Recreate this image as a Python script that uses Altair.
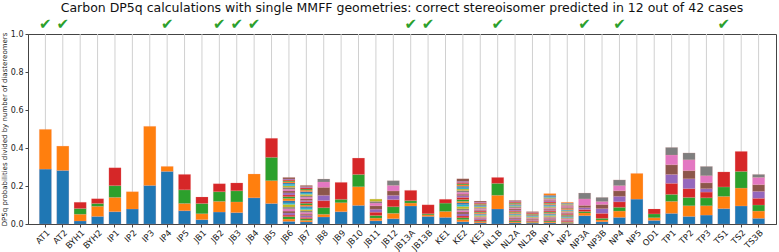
import altair as alt
import pandas as pd

# matplotlib "tab10" cycle used for successive diastereomers
TAB10 = ["#1f77b4", "#ff7f0e", "#2ca02c", "#d62728", "#9467bd",
         "#8c564b", "#e377c2", "#7f7f7f", "#bcbd22", "#17becf"]

# DP5q probability / number of diastereomers, one list per molecule (bottom -> top)
at1 = [0.289, 0.209]
at2 = [0.282, 0.128]
byh1 = [0.016, 0.035, 0.031, 0.032]
byh2 = [0.040, 0.053, 0.015, 0.025]
ip1 = [0.065, 0.075, 0.062, 0.094]
ip2 = [0.079, 0.091]
ip3 = [0.203, 0.311]
ip4 = [0.277, 0.026]
ip5 = [0.070, 0.038, 0.072, 0.081]
jb1 = [0.023, 0.031, 0.054, 0.034]
jb2 = [0.063, 0.056, 0.051, 0.042]
jb3 = [0.060, 0.056, 0.059, 0.041]
jb4 = [0.138, 0.125]
jb5 = [0.108, 0.120, 0.123, 0.100]
jb6 = [0.014, 0.012, 0.013, 0.008, 0.011, 0.010, 0.012, 0.009, 0.014, 0.008,
       0.011, 0.012, 0.010, 0.009, 0.011, 0.010, 0.009, 0.010, 0.008, 0.009,
       0.006, 0.006, 0.005, 0.005, 0.005, 0.008]
jb7 = [0.011, 0.008, 0.009, 0.007, 0.009, 0.008, 0.009, 0.008, 0.007, 0.009,
       0.008, 0.007, 0.009, 0.008, 0.007, 0.008, 0.009, 0.007, 0.008, 0.007,
       0.008, 0.007, 0.006, 0.007, 0.006, 0.006]
jb8 = [0.037, 0.014, 0.035, 0.037, 0.028, 0.042, 0.028, 0.016]
jb9 = [0.065, 0.047, 0.018, 0.089]
jb10 = [0.098, 0.098, 0.065, 0.086]
jb11 = [0.017, 0.014, 0.014, 0.017, 0.016, 0.018, 0.014, 0.009, 0.012]
jb12 = [0.028, 0.028, 0.035, 0.037, 0.023, 0.023, 0.029, 0.025]
jb13a = [0.095, 0.015, 0.013, 0.054]
jb13b = [0.040, 0.008, 0.006, 0.047]
ke1 = [0.035, 0.031, 0.044, 0.020]
ke2 = [0.012, 0.011, 0.010, 0.009, 0.011, 0.010, 0.008, 0.009, 0.012, 0.010,
       0.009, 0.008, 0.010, 0.011, 0.009, 0.008, 0.010, 0.009, 0.008, 0.007,
       0.008, 0.007, 0.006, 0.007, 0.006, 0.013]
ke3 = [0.006, 0.005, 0.004, 0.006, 0.005, 0.004, 0.005, 0.004, 0.006, 0.005,
       0.004, 0.005, 0.004, 0.005, 0.004, 0.004, 0.005, 0.004, 0.005, 0.004,
       0.005, 0.004, 0.004, 0.005, 0.004, 0.005]
nl1b = [0.079, 0.072, 0.063, 0.031]
nl2a = [0.006, 0.005, 0.006, 0.004, 0.005, 0.005, 0.004, 0.005, 0.006, 0.005,
        0.004, 0.005, 0.005, 0.004, 0.005, 0.006, 0.004, 0.005, 0.004, 0.005,
        0.005, 0.004, 0.005, 0.004, 0.004, 0.004]
nl2b = [0.005, 0.004, 0.004, 0.005, 0.004, 0.004, 0.004, 0.004, 0.004, 0.004,
        0.004, 0.004, 0.004, 0.004, 0.003, 0.004]
np1 = [0.006, 0.005, 0.005, 0.004, 0.005, 0.005, 0.004, 0.005, 0.006, 0.005,
       0.005, 0.004, 0.005, 0.005, 0.004, 0.005, 0.005, 0.004, 0.005, 0.005,
       0.005, 0.005, 0.004, 0.005, 0.005, 0.004, 0.005, 0.005, 0.004, 0.005,
       0.007, 0.009]
np2 = [0.004, 0.004, 0.003, 0.004, 0.004, 0.003, 0.004, 0.004, 0.003, 0.004,
       0.004, 0.003, 0.004, 0.004, 0.003, 0.004, 0.003, 0.004, 0.003, 0.004,
       0.003, 0.004, 0.003, 0.004, 0.003, 0.003, 0.004, 0.003, 0.004, 0.003,
       0.003, 0.004]
np3a = [0.044, 0.014, 0.008, 0.010, 0.010, 0.012, 0.034, 0.031]
np3b = [0.012, 0.009, 0.009, 0.026, 0.025, 0.022, 0.015, 0.022]
np4 = [0.035, 0.033, 0.020, 0.029, 0.029, 0.029, 0.027, 0.030]
np5 = [0.131, 0.135]
od1 = [0.019, 0.014, 0.020, 0.026]
tp1 = [0.056, 0.063, 0.037, 0.058, 0.047, 0.051, 0.051, 0.040]
tp2 = [0.040, 0.056, 0.044, 0.046, 0.052, 0.043, 0.057, 0.036]
tp3 = [0.047, 0.049, 0.042, 0.030, 0.018, 0.031, 0.037, 0.049]
ts1 = [0.081, 0.064, 0.050, 0.079]
ts2 = [0.095, 0.094, 0.088, 0.105]
ts3b = [0.030, 0.038, 0.032, 0.035, 0.037, 0.035, 0.038, 0.016]

BARS = [
    ("AT1", at1), ("AT2", at2), ("BYH1", byh1), ("BYH2", byh2),
    ("IP1", ip1), ("IP2", ip2), ("IP3", ip3), ("IP4", ip4), ("IP5", ip5),
    ("JB1", jb1), ("JB2", jb2), ("JB3", jb3), ("JB4", jb4), ("JB5", jb5),
    ("JB6", jb6), ("JB7", jb7), ("JB8", jb8), ("JB9", jb9), ("JB10", jb10),
    ("JB11", jb11), ("JB12", jb12), ("JB13A", jb13a), ("JB13B", jb13b),
    ("KE1", ke1), ("KE2", ke2), ("KE3", ke3),
    ("NL1B", nl1b), ("NL2A", nl2a), ("NL2B", nl2b),
    ("NP1", np1), ("NP2", np2), ("NP3A", np3a), ("NP3B", np3b),
    ("NP4", np4), ("NP5", np5), ("OD1", od1),
    ("TP1", tp1), ("TP2", tp2), ("TP3", tp3),
    ("TS1", ts1), ("TS2", ts2), ("TS3B", ts3b),
]

# molecules whose correct stereoisomer came out on top
CORRECT = ["AT1", "AT2", "IP4", "JB2", "JB3", "JB4", "JB13A", "JB13B",
           "NL1B", "NP3A", "NP4", "TS1"]

TITLE = ("Carbon DP5q calculations with single MMFF geometries: "
         "correct stereoisomer predicted in 12 out of 42 cases")
YLABEL = "DP5q probabilities divided by number of diastereomers"

names = [n for n, _ in BARS]
rows = []
for name, parts in BARS:
    for i, v in enumerate(parts):
        rows.append({"name": name, "idx": i, "value": v, "color": TAB10[i % 10]})
df = pd.DataFrame(rows)
names_df = pd.DataFrame({"name": names})
ticks_df = pd.DataFrame({"name": CORRECT, "mark": ["\u2714"] * len(CORRECT)})

FONT = "DejaVu Sans"
xscale = alt.Scale(domain=names, paddingInner=0.3, paddingOuter=0.65)

grid = alt.Chart(names_df).mark_rule(color="#d0d0d0", strokeWidth=1).encode(
    x=alt.X("name:N", scale=xscale, sort=names),
    y=alt.value(0),
    y2=alt.value(190),
)

bars = alt.Chart(df).mark_bar(
    stroke="#f2a0a0", strokeWidth=0.35, strokeOpacity=0.5
).encode(
    x=alt.X("name:N", scale=xscale, sort=names,
            axis=alt.Axis(title=None, labelAngle=-45, labelAlign="right",
                          labelBaseline="top", labelFontSize=8.5, labelFont=FONT,
                          labelColor="#222", labelPadding=1, tickSize=3,
                          tickColor="#444", domainColor="#444", grid=False)),
    y=alt.Y("value:Q", stack="zero",
            scale=alt.Scale(domain=[0, 1], nice=False, zero=True),
            axis=alt.Axis(title=YLABEL, titleFont=FONT, titleFontSize=7,
                          titleFontWeight="normal", titleColor="#222",
                          titlePadding=3,
                          values=[0, 0.2, 0.4, 0.6, 0.8, 1.0], format=".1f",
                          labelFontSize=8, labelFont=FONT, labelColor="#222",
                          labelPadding=2, tickSize=3, tickColor="#444",
                          domainColor="#444", grid=False)),
    color=alt.Color("color:N", scale=None),
    order=alt.Order("idx:Q", sort="ascending"),
)

checks = alt.Chart(ticks_df).mark_text(
    font=FONT, fontSize=15, color="#2ca02c", baseline="middle"
).encode(
    x=alt.X("name:N", scale=xscale, sort=names),
    y=alt.value(-10),
    text="mark:N",
)

chart = alt.layer(grid, bars, checks).properties(
    width=748, height=190,
    title=alt.TitleParams(TITLE, font=FONT, fontSize=12.5, fontWeight="normal",
                          color="#111", anchor="middle", frame="group",
                          offset=0, dy=-3),
    autosize=alt.AutoSizeParams(type="none"),
    padding={"left": 28, "top": 34, "right": 3, "bottom": 28},
).configure_view(stroke="#444", strokeWidth=1)

chart.save("out.html", embed_options={"renderer": "svg", "actions": False})
